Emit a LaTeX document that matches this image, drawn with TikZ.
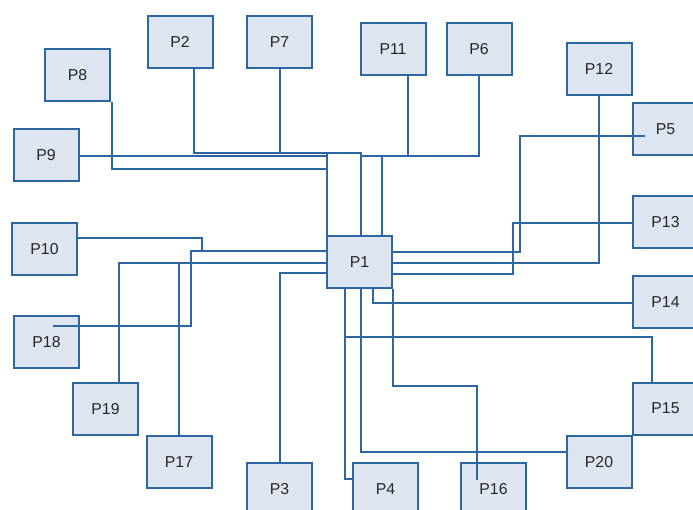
\documentclass[tikz,border=0pt]{standalone}
\usepackage{fontspec}
\setmainfont{Liberation Sans}
\usetikzlibrary{calc}
\definecolor{edgeblue}{RGB}{44,103,163}
\definecolor{boxfill}{RGB}{221,229,240}
\tikzset{
  pbox/.style={draw=edgeblue, fill=boxfill, line width=2pt, minimum width=65pt, minimum height=52pt, inner sep=0pt, font=\fontsize{15.8}{19}\selectfont, text=black!85},
  conn/.style={draw=edgeblue, line width=2pt}
}
\begin{document}
\begin{tikzpicture}[x=1pt,y=-1pt]
\useasboundingbox (0,0) rectangle (693,510);
\clip (0,0) rectangle (693,510);
\fill[white] (0,0) rectangle (693,510);
% boxes
\node[pbox] (P1) at (359.5,262.5) {P1};
\node[pbox] (P2) at (180,42) {P2};
\node[pbox] (P7) at (279.5,42) {P7};
\node[pbox] (P8) at (77.5,75) {P8};
\node[pbox] (P9) at (46,155.5) {P9};
\node[pbox] (P10) at (44.5,249) {P10};
\node[pbox] (P11) at (393,49) {P11};
\node[pbox] (P6) at (479,49) {P6};
\node[pbox] (P12) at (599,69) {P12};
\node[pbox] (P5) at (665.5,129) {P5};
\node[pbox] (P13) at (665.5,222.5) {P13};
\node[pbox] (P14) at (665.5,302.5) {P14};
\node[pbox] (P15) at (665.5,408.5) {P15};
\node[pbox] (P20) at (599,462) {P20};
\node[pbox] (P4) at (385.5,489) {P4};
\node[pbox] (P16) at (493.5,489) {P16};
\node[pbox] (P3) at (279.5,489) {P3};
\node[pbox] (P18) at (46.5,342) {P18};
\node[pbox] (P19) at (105.5,409) {P19};
\node[pbox] (P17) at (179,462) {P17};
% connectors
\draw[conn] ($(P2.south)+(14,0)$) -- (194,153) -- (361,153) -- ($(P1.north)+(1.5,0)$);
\draw[conn] ($(P7.south)+(0.5,0)$) -- (280,153) -- (327,153) -- ($(P1.north west)+(1,0)$);
\draw[conn] ($(P9.east)+(0,0.5)$) -- (327,156) -- ($(P1.north west)+(1,0)$);
\draw[conn] ($(P8.south east)+(1,0)$) -- (112,169) -- (327,169) -- ($(P1.north west)+(1,0)$);
\draw[conn] ($(P11.south)+(15,0)$) -- (408,156) -- (382,156) -- ($(P1.north)+(22.5,0)$);
\draw[conn] (P6.south) -- (479,156) -- (361,156) -- ($(P1.north)+(1.5,0)$);
\draw[conn] ($(P5.center)+(-20.5,7)$) -- (520,136) -- (520,252) -- ($(P1.east)+(0,-10.5)$);
\draw[conn] (P12.south) |- ($(P1.east)+(0,0.5)$);
\draw[conn] ($(P13.west)+(0,0.5)$) -- (513,223) -- (513,274) -- ($(P1.east)+(0,11.5)$);
\draw[conn] ($(P14.west)+(0,0.5)$) -| ($(P1.south)+(13.5,0)$);
\draw[conn] ($(P15.north)+(-13.5,0)$) -- (652,337) -- (345,337) -- ($(P1.south)+(-14.5,0)$);
\draw[conn] ($(P4.west)+(0,-10)$) -- (345,479) -- ($(P1.south)+(-14.5,0)$);
\draw[conn] ($(P20.west)+(0,-10)$) -| ($(P1.south)+(1.5,0)$);
\draw[conn] ($(P16.center)+(-16.5,-9)$) -- (477,386) -- (393,386) -- (P1.south east);
\draw[conn] ($(P3.north)+(0.5,0)$) |- ($(P1.west)+(0,10.5)$);
\draw[conn] (P17.north) |- ($(P1.west)+(0,0.5)$);
\draw[conn] ($(P19.north)+(13.5,0)$) |- ($(P1.west)+(0,0.5)$);
\draw[conn] ($(P10.east)+(0,-11)$) -- (202,238) -- (202,251) -- ($(P1.west)+(0,-11.5)$);
\draw[conn] ($(P18.center)+(6.5,-16)$) -- (191,326) -- (191,251) -- ($(P1.west)+(0,-11.5)$);
\end{tikzpicture}
\end{document}
